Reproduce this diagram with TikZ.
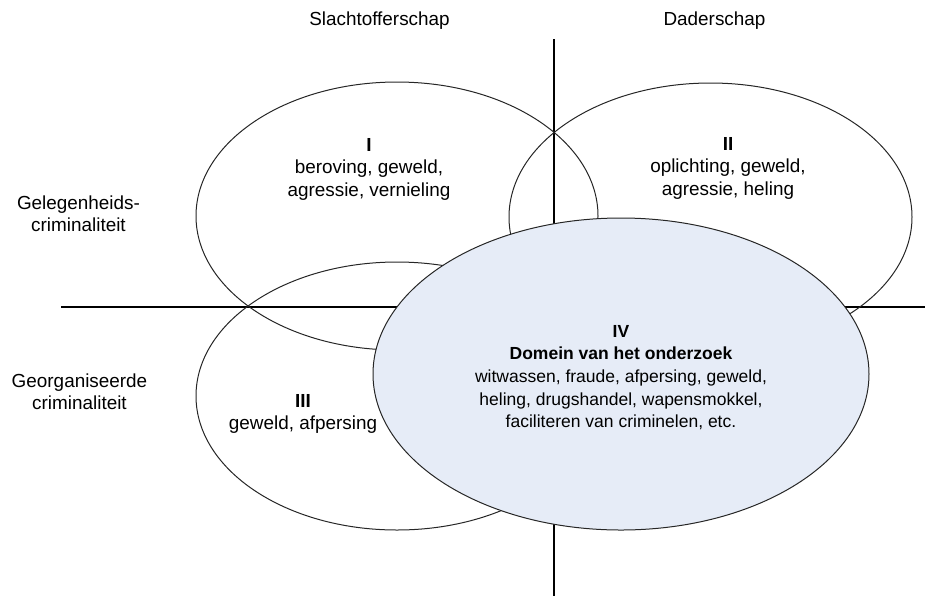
\documentclass[tikz,border=0pt]{standalone}
\usepackage{fontspec}
\setmainfont{Liberation Sans}
\definecolor{domainfill}{RGB}{230,236,247}
\begin{document}
\begin{tikzpicture}[x=0.5pt,y=-0.5pt,
  font=\fontsize{9.45}{11.25}\selectfont,
  axis/.style={line width=1pt,black},
  ring/.style={line width=0.5pt,black!85},
  lbl/.style={align=center,inner sep=0pt}]
\useasboundingbox (0,0) rectangle (927,596);
% axes
\coordinate (vtop) at (553.7,39);
\coordinate (vbot) at (553.7,596);
\coordinate (hleft) at (61,307);
\coordinate (hright) at (925,307);
\draw[axis] (vtop) -- (vbot);
\draw[axis] (hleft) -- (hright);
% ellipses
\draw[ring] (397,216) ellipse [x radius=201, y radius=134];
\draw[ring] (710.5,217) ellipse [x radius=201.5, y radius=134];
\draw[ring] (397,396) ellipse [x radius=201, y radius=134];
\draw[ring,fill=domainfill] (621,374) ellipse [x radius=248, y radius=156];
% texts
\node[lbl] (slacht) at (379.5,21) {Slachtofferschap};
\node[lbl] (dader) at (714.5,21) {Daderschap};
\node[lbl] (gelegen) at (78.5,213.5) {Gelegenheids-\\criminaliteit};
\node[lbl] (georg) at (79.5,391.5) {Georganiseerde\\criminaliteit};
\node[lbl] (tI) at (369,169) {\textbf{I}\\beroving, geweld,\\agressie, vernieling};
\node[lbl] (tII) at (728,168) {\textbf{II}\\oplichting, geweld,\\agressie, heling};
\node[lbl] (tIII) at (303,414) {\textbf{III}\\geweld, afpersing};
\node[lbl,font=\fontsize{8.75}{11.35}\selectfont] (tIV) at (621,377.5) {\textbf{IV}\\\textbf{Domein van het onderzoek}\\witwassen, fraude, afpersing, geweld,\\heling, drugshandel, wapensmokkel,\\faciliteren van criminelen, etc.};
\end{tikzpicture}
\end{document}
